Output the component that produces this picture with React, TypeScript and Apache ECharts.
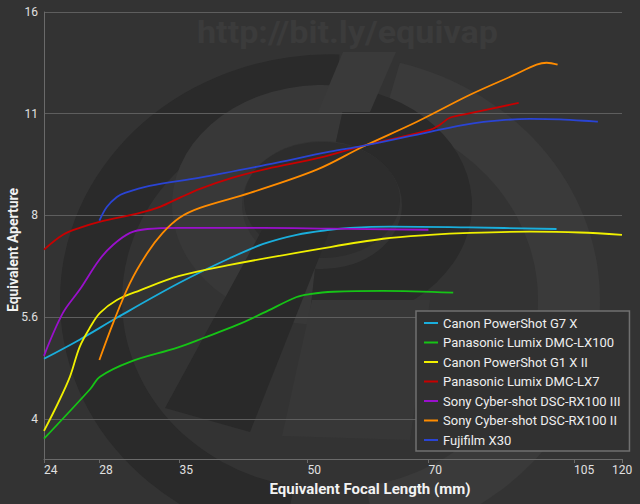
import React, { useEffect, useRef } from "react";
import * as echarts from "echarts";

// ---- Axis ticks ----
const xTickValues = [24, 28, 35, 50, 70, 105, 120];
const xTickLabels = ["24", "28", "35", "50", "70", "105", "120"];
const yTickValues = [4, 5.657, 8, 11.314, 16];
const yTickLabels = ["4", "5.6", "8", "11", "16"];
const xMin = 24;
const xMax = 120;
const yMin = 3.49;
const yMax = 16;

// ---- Series names & colours ----
const seriesNames = [
  "Canon PowerShot G7 X",
  "Panasonic Lumix DMC-LX100",
  "Canon PowerShot G1 X II",
  "Panasonic Lumix DMC-LX7",
  "Sony Cyber-shot DSC-RX100 III",
  "Sony Cyber-shot DSC-RX100 II",
  "Fujifilm X30",
];
const seriesColors = ["#1aaedc", "#16c416", "#f0f000", "#c80000", "#9a10cc", "#ff8c00", "#2a44d4"];

// ---- Data (focal length mm, equivalent aperture) ----
const g7xFocal = [24, 26.5, 29.5, 35, 40.3, 44.2, 48.5, 53.2, 56.3, 62.9, 78.5, 100];
const g7xAperture = [4.91, 5.24, 5.66, 6.36, 6.92, 7.26, 7.49, 7.62, 7.67, 7.7, 7.68, 7.64];

const lx100Focal = [24, 27.3, 28.05, 30.5, 34.8, 37.4, 41.1, 44.2, 48.5, 50.3, 53.7, 61.7, 75];
const lx100Aperture = [3.74, 4.43, 4.62, 4.86, 5.1, 5.27, 5.51, 5.74, 6.06, 6.12, 6.17, 6.19, 6.15];

const g1xFocal = [24, 24.95, 25.8, 26.5, 27.3, 28.05, 29.4, 31.35, 35, 40.27, 51.7, 61.7, 70.3, 78.6, 92.8, 106.7, 120];
const g1xAperture = [3.84, 4.22, 4.62, 5.11, 5.47, 5.74, 6.0, 6.2, 6.51, 6.76, 7.14, 7.39, 7.49, 7.54, 7.57, 7.55, 7.49];

const lx7Focal = [24, 25.3, 26.5, 28, 31.35, 33.15, 35.04, 37.05, 40.6, 44.64, 51.74, 58.3, 70.3, 72.3, 74.3, 77.9, 90];
const lx7Aperture = [7.12, 7.49, 7.67, 7.83, 8.07, 8.24, 8.5, 8.76, 9.1, 9.38, 9.74, 10.14, 10.71, 10.9, 11.16, 11.31, 11.74];

const rx100m3Focal = [24, 25.3, 26.5, 28, 29.1, 30.5, 32, 35, 44.2, 53.2, 70];
const rx100m3Aperture = [4.96, 5.74, 6.21, 6.88, 7.24, 7.54, 7.64, 7.67, 7.67, 7.65, 7.62];

const rx100m2Focal = [28, 29.1, 30.5, 32, 33.4, 35, 37.05, 42.6, 51.3, 58.3, 67.8, 78.6, 88.5, 94.6, 97.3, 100.3];
const rx100m2Aperture = [4.89, 5.55, 6.36, 7.04, 7.54, 7.94, 8.21, 8.64, 9.35, 10.11, 11.01, 12.07, 12.88, 13.37, 13.46, 13.37];

const x30Focal = [28, 28.6, 29.4, 30.07, 32.2, 37.05, 44.64, 53.2, 58.3, 70.3, 78.6, 85.4, 92.8, 100.9, 112.2];
const x30Aperture = [7.86, 8.24, 8.52, 8.64, 8.85, 9.1, 9.51, 9.94, 10.14, 10.64, 10.93, 11.06, 11.12, 11.1, 11.01];

const seriesFocal = [g7xFocal, lx100Focal, g1xFocal, lx7Focal, rx100m3Focal, rx100m2Focal, x30Focal];
const seriesAperture = [g7xAperture, lx100Aperture, g1xAperture, lx7Aperture, rx100m3Aperture, rx100m2Aperture, x30Aperture];

const FONT = "Roboto, 'Noto Sans', sans-serif";
const d2r = Math.PI / 180;

function nearestLabel(v: number, ticks: number[], labels: string[]) {
  let best = 0;
  let bd = Infinity;
  ticks.forEach((t, i) => {
    const d = Math.abs(Math.log(t) - v);
    if (d < bd) {
      bd = d;
      best = i;
    }
  });
  return labels[best];
}

function buildOption(): any {
  const series = seriesNames.map((name, i) => ({
    name,
    type: "line",
    data: seriesFocal[i].map((f, j) => [Math.log(f), Math.log(seriesAperture[i][j])]),
    showSymbol: false,
    symbol: "none",
    smooth: 0.35,
    lineStyle: { width: 1.8, color: seriesColors[i] },
    itemStyle: { color: seriesColors[i] },
    z: 3,
  }));

  const wm = (el: any) => ({ silent: true, z: -1, ...el });

  const graphic = [
    wm({
      type: "sector",
      x: 330,
      y: 300,
      scaleY: 0.91,
      shape: { cx: 0, cy: 0, r: 270, r0: 208, startAngle: 100 * d2r, endAngle: 272 * d2r },
      style: { fill: "#2a2a2a" },
    }),
    wm({
      type: "sector",
      x: 330,
      y: 300,
      scaleY: 0.91,
      shape: { cx: 0, cy: 0, r: 270, r0: 208, startAngle: -75 * d2r, endAngle: 80 * d2r },
      style: { fill: "#3a3a3a" },
    }),
    wm({
      type: "sector",
      x: 322,
      y: 205,
      scaleY: 0.8,
      shape: { cx: 0, cy: 0, r: 150, r0: 80, startAngle: 95 * d2r, endAngle: 280 * d2r },
      style: { fill: "#383838" },
    }),
    wm({
      type: "sector",
      x: 322,
      y: 205,
      scaleY: 0.8,
      shape: { cx: 0, cy: 0, r: 150, r0: 80, startAngle: -80 * d2r, endAngle: 95 * d2r },
      style: { fill: "#2a2a2a" },
    }),
    wm({
      type: "ellipse",
      shape: { cx: 322, cy: 200, rx: 78, ry: 58 },
      style: { fill: "#2d2d2d" },
    }),
    wm({
      type: "polygon",
      shape: { points: [[343, 52], [396, 52], [370, 112], [318, 112]] },
      style: { fill: "#3a3a3a" },
    }),
    wm({
      type: "polygon",
      shape: { points: [[262, 230], [330, 230], [250, 432], [165, 408]] },
      style: { fill: "#292929" },
    }),
    wm({
      type: "polygon",
      shape: { points: [[312, 300], [430, 300], [410, 440], [282, 436]] },
      style: { fill: "#373737" },
    }),
    wm({
      type: "text",
      x: 197,
      y: 17,
      scaleX: 1.1,
      style: {
        text: "http://bit.ly/equivap",
        fill: "#3b3b3b",
        fontSize: 31,
        fontWeight: "bold",
        fontFamily: FONT,
      },
    }),
  ];

  return {
    animation: false,
    backgroundColor: "#333333",
    textStyle: { fontFamily: FONT },
    graphic,
    grid: { left: 44, right: 18, top: 12, bottom: 45, containLabel: false, outerBoundsMode: "none" },
    legend: {
      data: seriesNames,
      orient: "vertical",
      left: 416,
      top: 311,
      icon: "rect",
      itemWidth: 14,
      itemHeight: 2,
      itemGap: 3.5,
      padding: [4, 9, 3, 8],
      backgroundColor: "#313131",
      borderColor: "#707070",
      borderWidth: 1.5,
      textStyle: { color: "#eeeeee", fontSize: 13, lineHeight: 16, fontFamily: FONT },
      z: 10,
    },
    xAxis: {
      type: "value",
      min: Math.log(xMin),
      max: Math.log(xMax),
      name: "Equivalent Focal Length (mm)",
      nameLocation: "middle",
      nameGap: 22,
      nameMoveOverlap: false,
      nameTextStyle: { color: "#f2f2f2", fontSize: 15, fontWeight: "bold", padding: [0, 0, 0, 74], fontFamily: FONT },
      axisLine: { show: true, lineStyle: { color: "#6a6a6a", width: 1 } },
      axisTick: { show: true, length: 4, customValues: xTickValues.map(Math.log), lineStyle: { color: "#6a6a6a" } },
      axisLabel: {
        customValues: xTickValues.map(Math.log),
        formatter: (v: number) => nearestLabel(v, xTickValues, xTickLabels),
        color: "#e0e0e0",
        fontSize: 12,
        margin: 5,
        align: "left",
        alignMaxLabel: "center",
      },
      splitLine: { show: false },
    },
    yAxis: {
      type: "value",
      min: Math.log(yMin),
      max: Math.log(yMax),
      name: "Equivalent Aperture",
      nameLocation: "middle",
      nameGap: 24,
      nameMoveOverlap: false,
      nameTextStyle: { color: "#f2f2f2", fontSize: 14, fontWeight: "bold", padding: [0, 29, 0, 0], fontFamily: FONT },
      axisLine: { show: true, lineStyle: { color: "#6a6a6a", width: 1 } },
      axisTick: { show: false, customValues: yTickValues.map(Math.log) },
      axisLabel: {
        customValues: yTickValues.map(Math.log),
        formatter: (v: number) => nearestLabel(v, yTickValues, yTickLabels),
        color: "#e0e0e0",
        fontSize: 12,
        margin: 6,
      },
      splitLine: { show: true, lineStyle: { color: "#5e5e5e", width: 1 } },
    },
    series,
  };
}

export default function App() {
  const ref = useRef<HTMLDivElement>(null);
  useEffect(() => {
    document.body.style.margin = "0";
    const chart = echarts.init(ref.current!, null, { renderer: "svg" });
    chart.setOption(buildOption());
    return () => chart.dispose();
  }, []);
  return <div ref={ref} style={{ width: 640, height: 504 }} />;
}
